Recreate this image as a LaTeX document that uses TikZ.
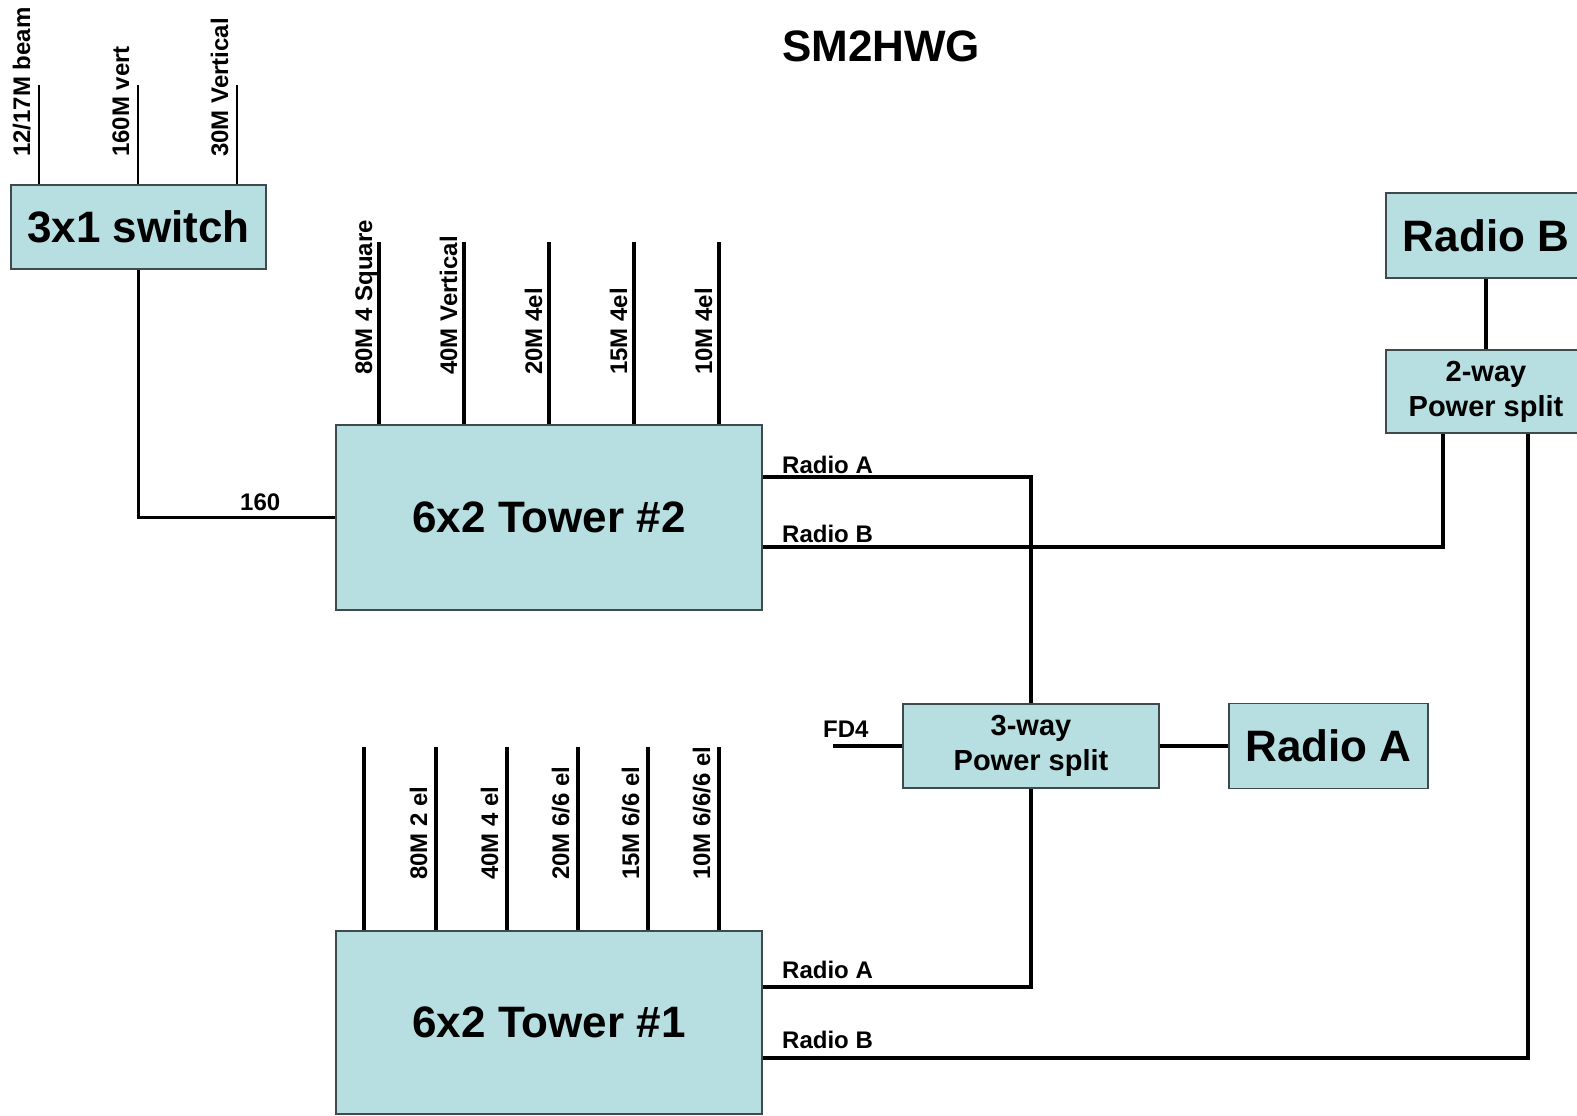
\documentclass[tikz,border=0pt]{standalone}
\usepackage{fontspec}
\setmainfont{Liberation Sans}
\usepackage{xcolor}
\usepackage{tikz}

\definecolor{boxfill}{RGB}{183,222,224}
\definecolor{boxline}{RGB}{62,74,76}

\tikzset{
  unit/.style={draw=boxline, line width=1.5pt, fill=boxfill, inner sep=0pt, align=center,
    font=\bfseries\fontsize{44}{50}\selectfont},
  splitbox/.style={unit, font=\bfseries\fontsize{29}{35}\selectfont},
  cable/.style={line width=3.5pt},
  feed/.style={line width=1.5pt},
  lbl/.style={inner sep=0pt, font=\bfseries\fontsize{24}{28}\selectfont},
  ant/.style={lbl, rotate=90, anchor=base west},
}

\begin{document}
\begin{tikzpicture}[x=1pt, y=-1pt]
    \clip (0,0) rectangle (1577,1116);

    \node[font=\bfseries\fontsize{44}{50}\selectfont] (title) at (881,46) {SM2HWG};

    % boxes
    \node[unit, minimum width=255pt, minimum height=84pt] (switch) at (138.5,227) {3x1 switch};
    \node[unit, minimum width=426pt, minimum height=185pt] (tower2) at (549,517.5) {6x2 Tower \#2};
    \node[unit, minimum width=426pt, minimum height=183pt] (tower1) at (549,1022.5) {6x2 Tower \#1};
    \node[splitbox, minimum width=256pt, minimum height=84pt] (split3) at (1031,746) {3-way\\Power split};
    \node[unit, minimum width=199pt, minimum height=85pt] (radioA) at (1328.5,746) {Radio A};
    \node[splitbox, minimum width=200pt, minimum height=83pt] (split2) at (1486,391.5) {2-way\\Power split};
    \node[unit, minimum width=200pt, minimum height=85pt] (radioB) at (1486,235.5) {Radio B};

    % antennas on the switch
    \foreach \x/\txt [count=\i] in {39/{12/17M beam},138/{160M vert},237/{30M Vertical}}{
      \coordinate (sa\i) at (\x,85);
      \draw[feed] (sa\i) -- (sa\i |- switch.north);
      \node[ant] (sal\i) at (\x-9,157) {\txt};
    }

    % antennas on tower 2
    \foreach \x/\txt [count=\i] in {379/{80M 4 Square},464/{40M Vertical},549/{20M 4el},634/{15M 4el},719/{10M 4el}}{
      \coordinate (ta\i) at (\x,242);
      \draw[cable] (ta\i) -- (ta\i |- tower2.north);
      \node[ant] (tal\i) at (\x-7,375) {\txt};
    }

    % antennas on tower 1
    \foreach \x [count=\i] in {364,436,507,578,648,719}{
      \coordinate (tb\i) at (\x,747);
      \draw[cable] (tb\i) -- (tb\i |- tower1.north);
    }
    \foreach \x/\txt [count=\i] in {436/{80M 2 el},507/{40M 4 el},578/{20M 6/6 el},648/{15M 6/6 el},719/{10M 6/6/6 el}}{
      \node[ant] (tbl\i) at (\x-9,880) {\txt};
    }

    % feed lines
    \draw[cable] (switch.south) |- (tower2.west);
    \node[lbl, anchor=base west] (l160) at (240,510) {160};

    \draw[cable] ([yshift=40.5pt]tower2.east) -| (split3.north);
    \draw[cable] ([yshift=-29.5pt]tower2.east) -| ([xshift=-43pt]split2.south);
    \draw[cable] ([yshift=35.5pt]tower1.east) -| (split3.south);
    \draw[cable] ([yshift=-35.5pt]tower1.east) -| ([xshift=42pt]split2.south);
    \node[lbl, anchor=base west] (t2a) at (782,473) {Radio A};
    \node[lbl, anchor=base west] (t2b) at (782,542) {Radio B};
    \node[lbl, anchor=base west] (t1a) at (782,978) {Radio A};
    \node[lbl, anchor=base west] (t1b) at (782,1048) {Radio B};

    \draw[cable] (split3) -- (radioA);
    \draw[cable] (radioB) -- (split2);
    \coordinate (fd4) at (833,746);
    \draw[cable] (fd4) -- (split3.west);
    \node[lbl, anchor=base west] (fd4lbl) at (823,737) {FD4};
\end{tikzpicture}
\end{document}
